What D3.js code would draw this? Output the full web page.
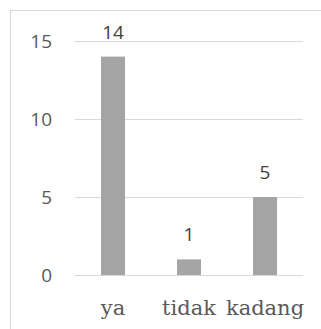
<!DOCTYPE html>
<html>
<head>
<meta charset="utf-8">
<script src="https://cdn.jsdelivr.net/npm/d3@7"></script>
<style>
  html, body { margin: 0; padding: 0; background: #fff; overflow: hidden; }
  .tick text { font-family: "Open Sans", sans-serif; font-size: 19px; fill: #595959; }
  .cat { font-family: "DejaVu Serif", serif; font-size: 21px; fill: #595959; }
  .lbl { font-family: "Open Sans", sans-serif; font-size: 19px; fill: #404040; }
</style>
</head>
<body>
<div class="chart"></div>
<script>
var categories = ["ya", "tidak", "kadang"];
var values = [14, 1, 5];
var yTicks = [0, 5, 10, 15];

var width = 321, height = 329;

var svg = d3.select(".chart")
  .append("svg")
  .attr("width", width)
  .attr("height", height);

// chart area border (runs off the right and bottom edges)
svg.append("rect")
  .attr("x", 10.5)
  .attr("y", 10.5)
  .attr("width", 400)
  .attr("height", 400)
  .attr("fill", "none")
  .attr("stroke", "#d9d9d9");

var x = d3.scaleBand()
  .domain(categories)
  .range([75, 303])
  .paddingInner(0.684)
  .paddingOuter(0.342);

var y = d3.scaleLinear()
  .domain([0, 15])
  .range([275, 41]);

// gridlines + tick labels
var yAxis = svg.append("g")
  .attr("transform", "translate(75,0)")
  .call(d3.axisLeft(y).tickValues(yTicks).tickSize(-228).tickPadding(23));
yAxis.select(".domain").remove();
yAxis.selectAll(".tick line").attr("stroke", "#d9d9d9").attr("stroke-width", 1);

svg.selectAll(".bar")
  .data(values)
  .enter().append("rect")
    .attr("class", "bar")
    .attr("x", function(d, i) { return x(categories[i]); })
    .attr("y", function(d) { return y(d); })
    .attr("width", x.bandwidth())
    .attr("height", function(d) { return y(0) - y(d); })
    .attr("fill", "#a5a5a5");

svg.selectAll(".lbl")
  .data(values)
  .enter().append("text")
    .attr("class", "lbl")
    .attr("x", function(d, i) { return x(categories[i]) + x.bandwidth() / 2; })
    .attr("y", function(d) { return y(d) - 18; })
    .attr("text-anchor", "middle")
    .text(function(d) { return d; });

svg.selectAll(".cat")
  .data(categories)
  .enter().append("text")
    .attr("class", "cat")
    .attr("x", function(d) { return x(d) + x.bandwidth() / 2; })
    .attr("y", 315)
    .attr("text-anchor", "middle")
    .text(function(d) { return d; });
</script>
</body>
</html>
